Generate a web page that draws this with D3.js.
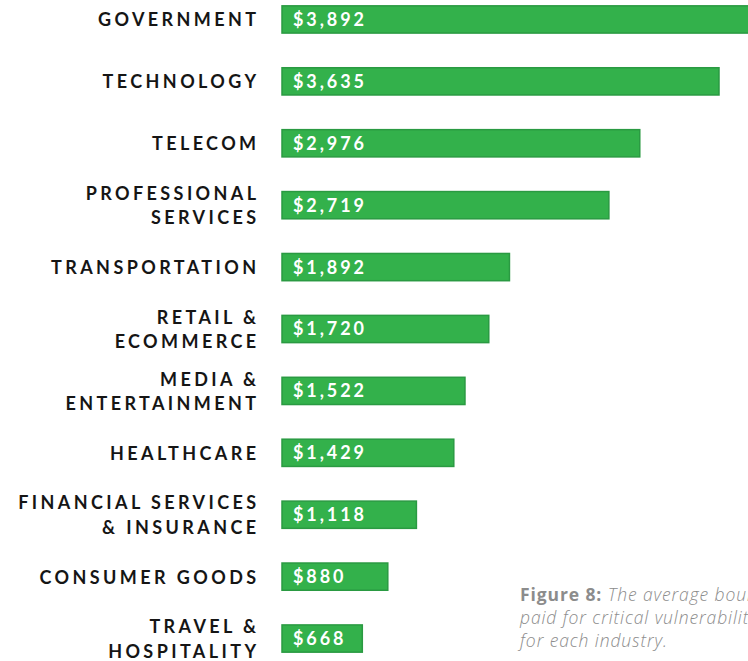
<!DOCTYPE html>
<html>
<head>
<meta charset="utf-8">
<script src="https://cdn.jsdelivr.net/npm/d3@7"></script>
<style>
  html, body { margin: 0; padding: 0; background: #fff; overflow: hidden; }
  svg { display: block; }
</style>
</head>
<body>
<svg id="chart" width="748" height="661"></svg>
<script>
// Average bounty paid for critical vulnerabilities, by industry
const industries = [
  ["GOVERNMENT"],
  ["TECHNOLOGY"],
  ["TELECOM"],
  ["PROFESSIONAL", "SERVICES"],
  ["TRANSPORTATION"],
  ["RETAIL &", "ECOMMERCE"],
  ["MEDIA &", "ENTERTAINMENT"],
  ["HEALTHCARE"],
  ["FINANCIAL SERVICES", "& INSURANCE"],
  ["CONSUMER GOODS"],
  ["TRAVEL &", "HOSPITALITY"]
];
const bounties = [3892, 3635, 2976, 2719, 1892, 1720, 1522, 1429, 1118, 880, 668];
const captionLead = "Figure 8:";
const captionLines = ["The average bounty", "paid for critical vulnerabilities", "for each industry."];

const svg = d3.select("#chart");

const x = d3.scaleLinear().domain([0, 3635]).range([282, 719]);
const y = d3.scaleBand()
  .domain(d3.range(bounties.length))
  .range([-12, 669])
  .paddingInner(0.56)
  .paddingOuter(0.28);

const labelFont = "Lato, 'Open Sans', sans-serif";

const rows = svg.selectAll("g.row")
  .data(bounties.map((v, i) => ({ v, i, name: industries[i] })))
  .join("g")
  .attr("class", "row");

rows.append("rect")
  .attr("x", x(0))
  .attr("y", d => y(d.i) + 0.5)
  .attr("width", d => x(d.v) - x(0))
  .attr("height", y.bandwidth())
  .attr("fill", "#33b14b")
  .attr("stroke", "#2a9a42")
  .attr("stroke-width", 1.5);

rows.append("text")
  .attr("x", x(0) + 11)
  .attr("y", d => y(d.i) + y.bandwidth() / 2 + 0.5)
  .attr("dy", "0.36em")
  .attr("fill", "#ffffff")
  .attr("font-family", labelFont)
  .attr("font-weight", 700)
  .attr("font-size", 18)
  .attr("letter-spacing", 2.9)
  .text(d => "$" + d3.format(",")(d.v));

rows.each(function(d) {
  const g = d3.select(this);
  const cy = y(d.i) + y.bandwidth() / 2 + 1;
  const n = d.name.length;
  const lh = 24.5;
  d.name.forEach((line, k) => {
    g.append("text")
      .attr("x", 259.5)
      .attr("y", cy + (k - (n - 1) / 2) * lh)
      .attr("dy", "0.36em")
      .attr("text-anchor", "end")
      .attr("fill", "#151515")
      .attr("font-family", labelFont)
      .attr("font-weight", 700)
      .attr("font-size", 18)
      .attr("letter-spacing", 3.4)
      .text(line);
  });
});

// Caption, running past the right edge of the page
const cap = svg.append("g")
  .attr("font-family", "'Open Sans', Lato, sans-serif")
  .attr("font-size", 17.5)
  .attr("letter-spacing", 0.9)
  .attr("fill", "#8c8c8c");

const t0 = cap.append("text").attr("x", 520).attr("y", 601);
t0.append("tspan").attr("font-weight", 700).text(captionLead + " ");
t0.append("tspan").attr("font-style", "italic").attr("font-weight", 300).text(captionLines[0]);
captionLines.slice(1).forEach((line, k) => {
  cap.append("text")
    .attr("x", 520)
    .attr("y", 624 + k * 23)
    .attr("font-style", "italic")
    .attr("font-weight", 300)
    .text(line);
});
</script>
</body>
</html>
